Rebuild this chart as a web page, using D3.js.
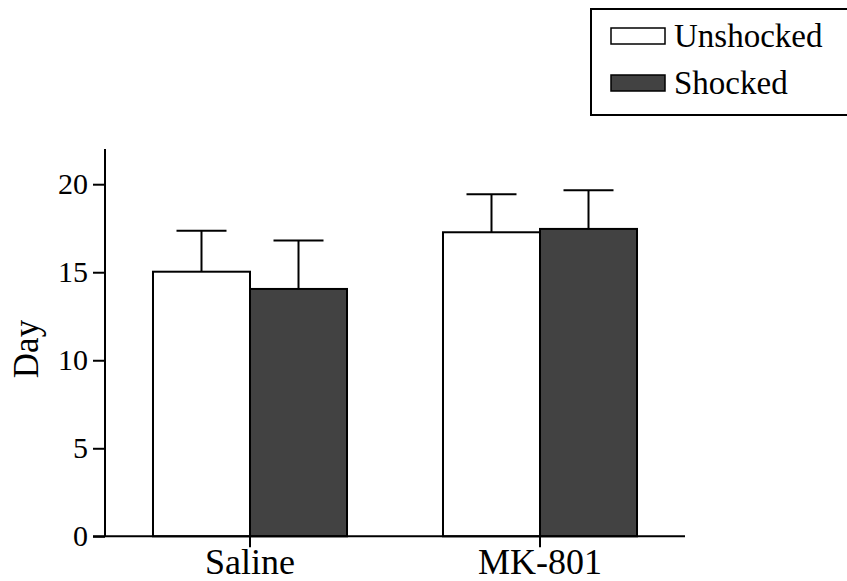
<!DOCTYPE html>
<html>
<head>
<meta charset="utf-8">
<script src="https://cdn.jsdelivr.net/npm/d3@7"></script>
<style>
  html, body { margin: 0; padding: 0; background: #fff; }
  svg { display: block; }
  svg text { font-family: "Liberation Serif", "DejaVu Serif", serif !important; fill: #000; }
</style>
</head>
<body>
<svg id="chart" width="847" height="581"></svg>
<script>
// ---- data ----
const categories = ["Saline", "MK-801"];
const seriesNames = ["Unshocked", "Shocked"];
const unshockedMeans = [15.03, 17.27];
const unshockedSEM   = [2.33, 2.16];
const shockedMeans   = [14.05, 17.46];
const shockedSEM     = [2.75, 2.20];
const yTicks = [0, 5, 10, 15, 20];
const yLabel = "Day";
const seriesFill = ["#ffffff", "#424242"];

// ---- layout ----
const svg = d3.select("#chart");
const x0 = 105, x1 = 685, yBottom = 536.3, yTop = 149;
const serif = "Liberation Serif";

const x = d3.scaleBand().domain(categories).range([x0, x1])
  .paddingInner(0.331).paddingOuter(0.1655);
const xs = d3.scaleBand().domain(seriesNames).range([0, x.bandwidth()]).padding(0);
const y = d3.scaleLinear().domain([0, 22]).range([yBottom, yTop]);

const rows = [];
categories.forEach((c, i) => {
  rows.push({cat: c, series: seriesNames[0], mean: unshockedMeans[i], sem: unshockedSEM[i], fill: seriesFill[0]});
  rows.push({cat: c, series: seriesNames[1], mean: shockedMeans[i], sem: shockedSEM[i], fill: seriesFill[1]});
});

// error bars
const eb = svg.append("g").attr("stroke", "#000").attr("stroke-width", 2);
rows.forEach(r => {
  const cx = x(r.cat) + xs(r.series) + xs.bandwidth() / 2;
  eb.append("line").attr("x1", cx).attr("x2", cx).attr("y1", y(r.mean)).attr("y2", y(r.mean + r.sem));
  eb.append("line").attr("x1", cx - 25).attr("x2", cx + 25).attr("y1", y(r.mean + r.sem)).attr("y2", y(r.mean + r.sem));
});

// bars
svg.append("g").selectAll("rect").data(rows).join("rect")
  .attr("x", d => x(d.cat) + xs(d.series))
  .attr("width", xs.bandwidth())
  .attr("y", d => y(d.mean))
  .attr("height", d => y(0) - y(d.mean))
  .attr("fill", d => d.fill)
  .attr("stroke", "#000")
  .attr("stroke-width", 2);

// y axis
const yAxis = d3.axisLeft(y).tickValues(yTicks).tickSize(12).tickPadding(5);
const gy = svg.append("g").attr("transform", `translate(${x0},0)`).call(yAxis)
  .attr("font-family", serif).attr("font-size", 30);
gy.select(".domain").remove();
gy.append("line").attr("x1", 0).attr("x2", 0).attr("y1", yTop).attr("y2", yBottom)
  .attr("stroke", "#000").attr("stroke-width", 2);
gy.selectAll(".tick line").attr("stroke", "#000").attr("stroke-width", 2);
gy.selectAll(".tick text").attr("font-family", serif).attr("font-size", 30);

// x axis
const xAxis = d3.axisBottom(x).tickSize(11).tickPadding(2);
const gx = svg.append("g").attr("transform", `translate(0,${yBottom})`).call(xAxis)
  .attr("font-family", serif).attr("font-size", 36);
gx.select(".domain").remove();
gx.append("line").attr("x1", x0 - 12).attr("x2", x1).attr("y1", 0).attr("y2", 0)
  .attr("stroke", "#000").attr("stroke-width", 2);
gx.selectAll(".tick line").attr("stroke", "#000").attr("stroke-width", 2);
gx.selectAll(".tick text").attr("font-family", serif).attr("font-size", 36)
  .attr("dy", null).attr("y", 38);

// y label
svg.append("text")
  .attr("transform", `translate(38,349) rotate(-90)`)
  .attr("text-anchor", "middle")
  .attr("font-family", serif)
  .attr("font-size", 35)
  .text(yLabel);

// legend
const lg = svg.append("g");
lg.append("rect").attr("x", 591).attr("y", 9).attr("width", 270).attr("height", 106)
  .attr("fill", "#fff").attr("stroke", "#000").attr("stroke-width", 2);
seriesNames.forEach((s, i) => {
  const yy = 28 + i * 47;
  lg.append("rect").attr("x", 611).attr("y", yy).attr("width", 54).attr("height", 16)
    .attr("fill", seriesFill[i]).attr("stroke", "#000").attr("stroke-width", 1.5);
  lg.append("text").attr("x", 674).attr("y", yy + 19)
    .attr("font-family", serif).attr("font-size", 33).text(s);
});
</script>
</body>
</html>
